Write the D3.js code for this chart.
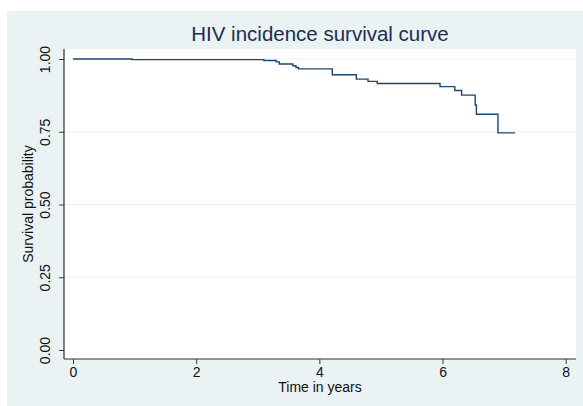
<!DOCTYPE html>
<html>
<head>
<meta charset="utf-8">
<script src="https://cdn.jsdelivr.net/npm/d3@7"></script>
<style>
  html, body { margin: 0; padding: 0; background: #ffffff; }
  svg { display: block; }
  text { font-family: "Liberation Sans", Arial, sans-serif; }
</style>
</head>
<body>
<svg id="chart" width="583" height="406"></svg>
<script>
// Kaplan-Meier step data
const times    = [0, 0.96, 3.10, 3.30, 3.35, 3.57, 3.62, 3.66, 4.21, 4.60, 4.79, 4.94, 5.96, 6.20, 6.31, 6.53, 6.55, 6.90];
const survival = [1.000, 0.998, 0.995, 0.990, 0.983, 0.977, 0.971, 0.966, 0.946, 0.931, 0.923, 0.916, 0.905, 0.892, 0.876, 0.842, 0.810, 0.746];
const endTime = 7.18;
const xTicks = [0, 2, 4, 6, 8];
const yTicks = [0, 0.25, 0.5, 0.75, 1];
const gridTicks = [0.25, 0.5, 0.75, 1];
const title = "HIV incidence survival curve";
const xTitle = "Time in years";
const yTitle = "Survival probability";

const svg = d3.select("#chart");
const W = 583, H = 406;

// graph region
svg.append("rect").attr("x", 7).attr("y", 11).attr("width", W - 7).attr("height", H - 11)
  .attr("fill", "#eaf2f3");

// plot region
const pl = 64, pr = 576, pt = 49, pb = 359;
svg.append("rect").attr("x", pl).attr("y", pt).attr("width", pr - pl).attr("height", pb - pt)
  .attr("fill", "#ffffff");

const x = d3.scaleLinear().domain([0, 8]).range([73, 565.7]);
const y = d3.scaleLinear().domain([0, 1]).range([350, 59]);

// grid lines
svg.append("g").selectAll("line").data(gridTicks).join("line")
  .attr("x1", pl + 1).attr("x2", pr)
  .attr("y1", d => y(d)).attr("y2", d => y(d))
  .attr("stroke", "#eaf2f3").attr("stroke-width", 1.2);

// survival curve
const pts = times.map((t, i) => [t, survival[i]]);
pts.push([endTime, survival[survival.length - 1]]);
const line = d3.line().x(d => x(d[0])).y(d => y(d[1])).curve(d3.curveStepAfter);
svg.append("path").datum(pts).attr("d", line)
  .attr("fill", "none").attr("stroke", "#1a476f").attr("stroke-width", 1.4);

// x axis
const xAxis = d3.axisBottom(x).tickValues(xTicks).tickFormat(d3.format("d")).tickSize(5).tickSizeOuter(0);
const gx = svg.append("g").attr("transform", `translate(0,${pb})`).call(xAxis);
gx.select(".domain").remove();
gx.selectAll(".tick line").attr("stroke", "#3a3a3a");
gx.selectAll(".tick text").attr("y", 18.3).attr("dy", 0)
  .attr("font-size", "14px").attr("fill", "#111").style("font-family", '"Liberation Sans", Arial, sans-serif');

// y axis
const yAxis = d3.axisLeft(y).tickValues(yTicks).tickFormat(d3.format(".2f")).tickSize(5).tickSizeOuter(0);
const gy = svg.append("g").attr("transform", `translate(${pl},0)`).call(yAxis);
gy.select(".domain").remove();
gy.selectAll(".tick line").attr("stroke", "#3a3a3a");
gy.selectAll(".tick text")
  .attr("x", 0).attr("y", 0).attr("dy", 0)
  .attr("transform", "translate(-14,0) rotate(-90)")
  .attr("text-anchor", "middle")
  .attr("font-size", "14px").attr("fill", "#111").style("font-family", '"Liberation Sans", Arial, sans-serif');

// axis lines
svg.append("line").attr("x1", pl).attr("x2", pl).attr("y1", pt).attr("y2", pb)
  .attr("stroke", "#2e2e2e").attr("stroke-width", 1.2);
svg.append("line").attr("x1", pl).attr("x2", pr).attr("y1", pb).attr("y2", pb)
  .attr("stroke", "#2e2e2e").attr("stroke-width", 1.2);

// titles
svg.append("text").attr("x", 320).attr("y", 41).attr("text-anchor", "middle")
  .attr("font-size", "20.5px").attr("fill", "#1e2d53").text(title);
svg.append("text").attr("x", 320).attr("y", 392).attr("text-anchor", "middle")
  .attr("font-size", "14px").attr("fill", "#111").text(xTitle);
svg.append("text").attr("transform", "translate(33,204) rotate(-90)").attr("text-anchor", "middle")
  .attr("font-size", "14px").attr("fill", "#111").text(yTitle);
</script>
</body>
</html>
